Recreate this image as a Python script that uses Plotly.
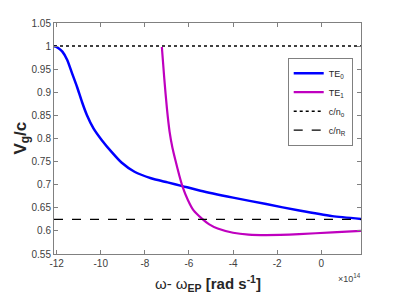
import plotly.graph_objects as go

# x in units of 1e14 rad/s
te0_x = [-12.12, -12.04, -11.9, -11.74, -11.52, -11.30, -11.07, -10.85, -10.63, -10.33, -9.96, -9.51,
         -9.06, -8.47, -7.72, -6.97, -6.30, -5.48, -4.0, -2.5, -1.0, 0.5, 1.8]
te0_y = [1.0, 0.999, 0.995, 0.988, 0.970, 0.941, 0.911, 0.879, 0.851, 0.822, 0.797, 0.771,
         0.748, 0.728, 0.714, 0.705, 0.697, 0.687, 0.672, 0.658, 0.644, 0.632, 0.626]

te1_x = [-7.23, -7.12, -7.0, -6.88, -6.75, -6.6, -6.45, -6.3, -6.05, -5.8, -5.4, -5.08, -4.7,
         -4.0, -3.3, -2.5, -1.0, 0.5, 1.8]
te1_y = [0.998, 0.93, 0.865, 0.815, 0.780, 0.750, 0.722, 0.697, 0.667, 0.645, 0.626, 0.614, 0.605,
         0.596, 0.592, 0.591, 0.593, 0.597, 0.600]

x_range = [-12.12, 1.8]
c_no = 1.0
c_nR = 0.625

x_ticks = [-12, -10, -8, -6, -4, -2, 0]
x_ticktext = ["-12", "-10", "-8", "-6", "-4", "-2", "0"]
y_ticks = [0.55, 0.6, 0.65, 0.7, 0.75, 0.8, 0.85, 0.9, 0.95, 1.0, 1.05]
y_ticktext = ["0.55", "0.6", "0.65", "0.7", "0.75", "0.8", "0.85", "0.9", "0.95", "1", "1.05"]

fig = go.Figure()
fig.add_trace(go.Scatter(x=te0_x, y=te0_y, mode="lines", name="TE<sub>0</sub>",
                         line=dict(color="#0000ff", width=2.5, shape="spline", smoothing=0.6)))
fig.add_trace(go.Scatter(x=te1_x, y=te1_y, mode="lines", name="TE<sub>1</sub>",
                         line=dict(color="#bf00bf", width=2.2, shape="spline", smoothing=0.6)))
fig.add_trace(go.Scatter(x=x_range, y=[c_no, c_no], mode="lines", name="c/n<sub>o</sub>",
                         line=dict(color="black", width=1.5, dash="dot")))
fig.add_trace(go.Scatter(x=x_range, y=[c_nR, c_nR], mode="lines", name="c/n<sub>R</sub>",
                         line=dict(color="black", width=1.3, dash="dash")))

axis_common = dict(showgrid=False, zeroline=False, showline=True, linecolor="#808080", linewidth=1,
                   mirror="ticks", ticks="inside", ticklen=4, tickcolor="#808080",
                   tickfont=dict(family="Liberation Sans, Arial, sans-serif", size=10, color="#404040"))

fig.update_xaxes(range=x_range, tickvals=x_ticks, ticktext=x_ticktext, **axis_common)
fig.update_yaxes(range=[0.55, 1.05], tickvals=y_ticks, ticktext=y_ticktext, **axis_common)

fig.update_layout(
    width=399, height=299,
    margin=dict(l=54, r=38, t=23, b=45),
    paper_bgcolor="white", plot_bgcolor="white",
    font=dict(family="Liberation Sans, Arial, sans-serif"),
    legend=dict(x=0.973, y=0.85, xanchor="right", yanchor="top",
                bordercolor="#808080", borderwidth=1, bgcolor="white",
                font=dict(size=9, color="#262626"), itemwidth=30, tracegroupgap=0),
    annotations=[
        dict(text="<b>V<sub>g</sub>/c</b>", x=0, y=0.5, xref="paper", yref="paper",
             xanchor="center", yanchor="middle", textangle=-90, showarrow=False,
             font=dict(size=17, color="#262626"), xshift=-33),
        dict(text="ω- ω<b><sub>EP</sub> [rad s<sup>-1</sup>]</b>", x=0.5, y=0, xref="paper", yref="paper",
             xanchor="center", yanchor="top", showarrow=False, yshift=-17,
             font=dict(size=15, color="#262626")),
        dict(text="×10<sup>14</sup>", x=1.0, y=0, xref="paper", yref="paper",
             xanchor="right", yanchor="top", showarrow=False, yshift=-16, xshift=2,
             font=dict(size=9, color="#404040")),
    ],
)

fig.write_html("out.html", config={"displayModeBar": False},
               post_script="document.body.style.margin='0px';")
